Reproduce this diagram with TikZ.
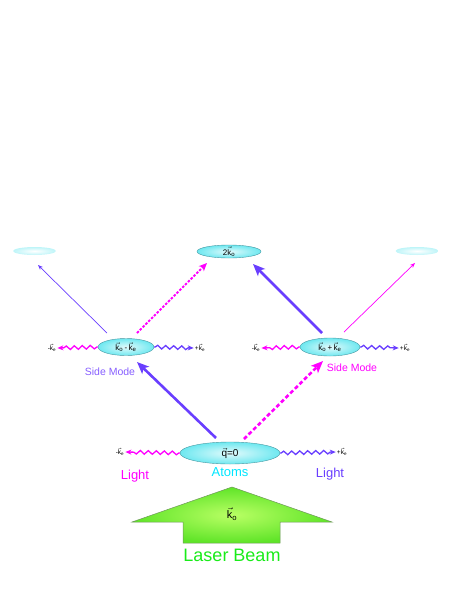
\documentclass[tikz,border=0pt]{standalone}
\usepackage{amsmath}
\usepackage{fontspec}
\setmainfont{Liberation Sans}
\usetikzlibrary{arrows.meta,shapes.geometric,decorations.pathmorphing}
\definecolor{beamviolet}{RGB}{105,62,255}
\definecolor{sideviolet}{RGB}{135,95,255}
\definecolor{beammagenta}{RGB}{255,0,255}
\definecolor{cellcyan}{RGB}{110,232,240}
\definecolor{cellrim}{RGB}{70,150,160}
\definecolor{atomcyan}{RGB}{0,230,255}
\definecolor{laserlight}{RGB}{185,255,100}
\definecolor{lasergreen}{RGB}{95,228,40}
\definecolor{laserrim}{RGB}{110,150,90}
\definecolor{lasertext}{RGB}{25,235,25}
\newcommand{\kvec}[1]{$\vec{\text{k}}_{\text{#1}}$}

\begin{document}
\begin{tikzpicture}[x=1pt,y=-1pt,
  state/.style={
    ellipse,
    draw=cellrim,
    line width=0.4pt,
    inner sep=0pt,
    inner color=cellcyan!20,
    outer color=cellcyan,
    font=\fontsize{8}{9}\selectfont
  },
  ghost/.style={state,draw=none,inner color=white,outer color=cellcyan!45},
  wavevec/.style={font=\fontsize{6.5}{7}\selectfont,inner sep=1pt},
  tag/.style={inner sep=0pt,font=\fontsize{10.5}{12}\selectfont},
  bigtag/.style={inner sep=0pt,font=\fontsize{13}{15}\selectfont},
  pump/.style={
    -{Stealth[length=12pt,width=10pt,inset=3pt]},
    draw=beamviolet,
    line width=2.6pt
  },
  pumpdash/.style={pump,draw=beammagenta,dash pattern=on 4pt off 2.5pt},
  lightdash/.style={
    -{Stealth[length=8pt,width=7pt,inset=2pt]},
    draw=beammagenta,
    line width=1.8pt,
    dash pattern=on 2.5pt off 1.5pt
  },
  faint/.style={-{Stealth[length=5pt,width=4pt]},draw=beamviolet,line width=0.7pt},
  wave/.style={
    -{Stealth[length=6pt,width=5pt]},
    line width=1.3pt,
    decorate,
    decoration={snake,amplitude=1.8pt,segment length=8pt,pre length=1pt,post length=5pt}
  }
]
\useasboundingbox (0,0) rectangle (464,600);

% Momentum states
\node[ghost,minimum width=43pt,minimum height=8pt] (farleft) at (34.5,251) {};
\node[state,minimum width=64pt,minimum height=13pt] (twoko) at (229,251.5) {2\kvec{o}};
\node[ghost,minimum width=43pt,minimum height=8pt] (farright) at (417,251) {};
\node[state,minimum width=56pt,minimum height=17pt] (sideminus) at (126,347)
  {\kvec{o}\,-\,\kvec{e}};
\node[state,minimum width=60pt,minimum height=18pt] (sideplus) at (330,347)
  {\kvec{o}\,+\,\kvec{e}};
\node[state,minimum width=100pt,minimum height=22pt,font=\fontsize{10}{12}\selectfont]
  (atoms) at (230,453) {$\vec{\text{q}}$=0};

% Scattered photon labels
\node[wavevec] (sm-minus) at (52,348) {-\kvec{e}};
\node[wavevec] (sm-plus) at (200,348) {+\kvec{e}};
\node[wavevec] (sp-minus) at (256,348) {-\kvec{e}};
\node[wavevec] (sp-plus) at (405,348) {+\kvec{e}};
\node[wavevec] (at-minus) at (120,452) {-\kvec{e}};
\node[wavevec] (at-plus) at (342,452) {+\kvec{e}};

% Text labels
\node[tag,text=sideviolet] (modeminus) at (110,372) {Side Mode};
\node[tag,text=beammagenta] (modeplus) at (352,367.5) {Side Mode};
\node[bigtag,text=beammagenta] (lightminus) at (135,476) {Light};
\node[bigtag,text=beamviolet] (lightplus) at (330,474) {Light};
\node[bigtag,text=atomcyan] (atomtag) at (230,472) {Atoms};

% Laser beam arrow
\shade[draw=laserrim,line width=0.5pt,inner color=laserlight,outer color=lasergreen]
  (232,487) -- (332,522) -- (280,522) -- (280,543) -- (183,543) -- (183,522)
  -- (132,522) -- cycle;
\node[font=\fontsize{11}{12}\selectfont] (ko) at (232,514) {\kvec{o}};
\node[inner sep=0pt,font=\fontsize{18}{20}\selectfont,text=lasertext] (laser)
  at (232,555) {Laser Beam};

% Scattering from the atoms
\draw[pump] ([shift={(-14,-15)}]atoms.center) -- ([shift={(11,15)}]sideminus.center);
\draw[pumpdash] ([shift={(14,-14)}]atoms.center) -- ([shift={(-7,14)}]sideplus.center);
\draw[wave,draw=beammagenta] (atoms.west) -- (at-minus.east);
\draw[wave,draw=beamviolet] (atoms.east) -- (at-plus.west);

% Second order scattering
\draw[faint] ([shift={(-19,-14)}]sideminus.center) -- ([shift={(3.5,14)}]farleft.center);
\draw[lightdash] ([shift={(11,-14)}]sideminus.center) -- ([shift={(-22,11.5)}]twoko.center);
\draw[pump] ([shift={(-8,-14)}]sideplus.center) -- ([shift={(24,12.5)}]twoko.center);
\draw[faint,draw=beammagenta] ([shift={(14,-15)}]sideplus.center)
  -- ([shift={(-2,12)}]farright.center);
\draw[wave,draw=beammagenta] (sideminus.west) -- (sm-minus.east);
\draw[wave,draw=beamviolet] (sideminus.east) -- (sm-plus.west);
\draw[wave,draw=beammagenta] (sideplus.west) -- (sp-minus.east);
\draw[wave,draw=beamviolet] (sideplus.east) -- (sp-plus.west);
\end{tikzpicture}
\end{document}
